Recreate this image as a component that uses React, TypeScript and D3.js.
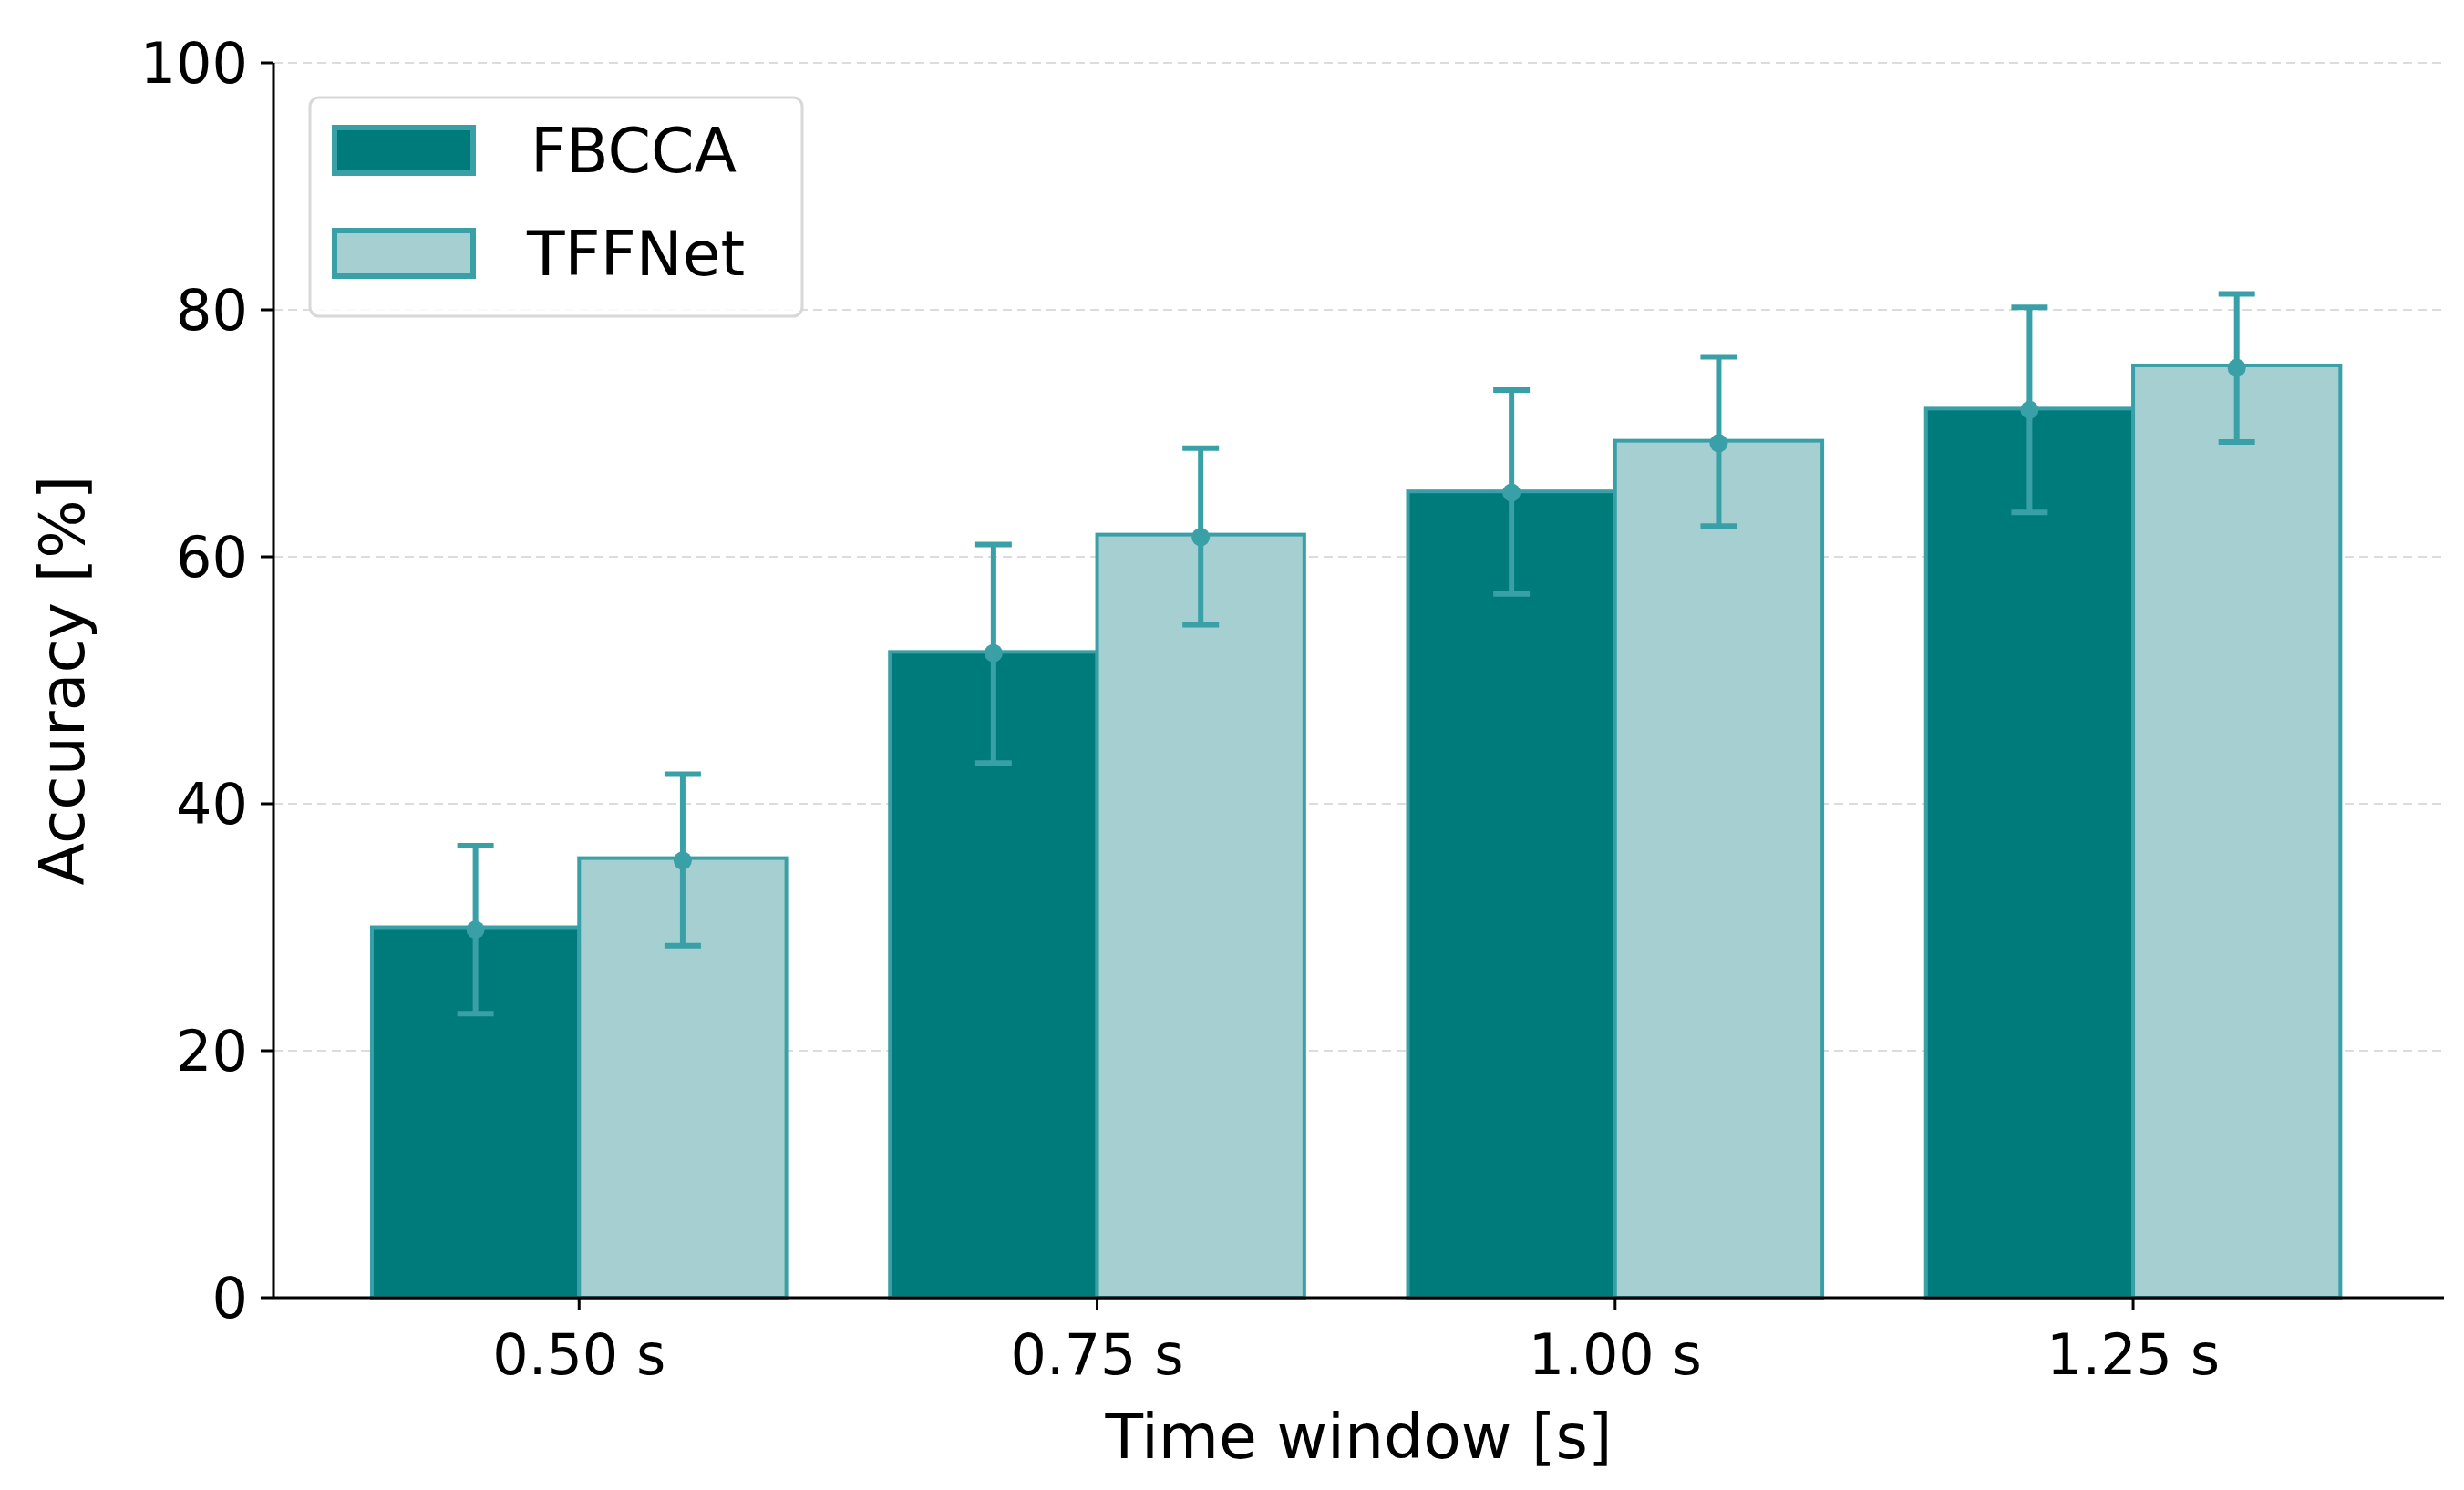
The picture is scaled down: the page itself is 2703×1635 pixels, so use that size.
import React from "react";
import * as d3 from "d3";

const categories = ["0.50 s", "0.75 s", "1.00 s", "1.25 s"];
const fbccaMean = [30.0, 52.3, 65.3, 72.0];
const fbccaLow = [23.0, 43.3, 57.0, 63.6];
const fbccaHigh = [36.6, 61.0, 73.5, 80.2];
const fbccaDot = [29.8, 52.2, 65.2, 71.9];
const tffMean = [35.6, 61.8, 69.4, 75.5];
const tffLow = [28.5, 54.5, 62.5, 69.3];
const tffHigh = [42.4, 68.8, 76.2, 81.3];
const tffDot = [35.4, 61.6, 69.2, 75.3];
const yTicks = [0, 20, 40, 60, 80, 100];

const W = 2703, H = 1635;
const left = 300, right = 2681, top = 69, bottom = 1424;
const dark = "#007b7b", light = "#a5cfd0", edge = "#3aa0a8";
const font = "DejaVu Sans, sans-serif";

export default function App() {
  const x = d3.scaleLinear().domain([-0.59, 3.6]).range([left, right]);
  const y = d3.scaleLinear().domain([0, 100]).range([bottom, top]);
  const bw = x(0.4) - x(0);
  const series = [
    { mean: fbccaMean, low: fbccaLow, high: fbccaHigh, dot: fbccaDot, fill: dark, off: -0.2 },
    { mean: tffMean, low: tffLow, high: tffHigh, dot: tffDot, fill: light, off: 0.2 },
  ];
  return (
    <svg width={W} height={H} style={{ position: "absolute", left: 0, top: 0, background: "#fff" }} fontFamily={font}>
      {yTicks.slice(1).map((t) => (
        <line key={t} x1={left} x2={right} y1={y(t)} y2={y(t)} stroke="#dcdcdc" strokeWidth={2} strokeDasharray="10 6" />
      ))}
      {series.map((s, si) =>
        categories.map((c, i) => {
          const cx = x(i + s.off);
          return (
            <rect key={si + c} x={cx - bw / 2} y={y(s.mean[i])} width={bw} height={y(0) - y(s.mean[i])}
              fill={s.fill} stroke={edge} strokeWidth={4} />
          );
        })
      )}
      {series.map((s, si) =>
        categories.map((c, i) => {
          const cx = x(i + s.off);
          return (
            <g key={"e" + si + c} stroke={edge} strokeWidth={6}>
              <line x1={cx} x2={cx} y1={y(s.low[i])} y2={y(s.high[i])} />
              <line x1={cx - 20} x2={cx + 20} y1={y(s.low[i])} y2={y(s.low[i])} />
              <line x1={cx - 20} x2={cx + 20} y1={y(s.high[i])} y2={y(s.high[i])} />
              <circle cx={cx} cy={y(s.dot[i])} r={10} fill={edge} stroke="none" />
            </g>
          );
        })
      )}
      <line x1={left} x2={left} y1={top} y2={bottom} stroke="#000" strokeWidth={3} />
      <line x1={left} x2={right} y1={bottom} y2={bottom} stroke="#000" strokeWidth={3} />
      {yTicks.map((t) => (
        <g key={t}>
          <line x1={left - 14} x2={left} y1={y(t)} y2={y(t)} stroke="#000" strokeWidth={3} />
          <text x={left - 28} y={y(t)} dy="0.36em" textAnchor="end" fontSize={62}>{t}</text>
        </g>
      ))}
      {categories.map((c, i) => (
        <g key={c}>
          <line x1={x(i)} x2={x(i)} y1={bottom} y2={bottom + 14} stroke="#000" strokeWidth={3} />
          <text x={x(i)} y={bottom + 84} textAnchor="middle" fontSize={62}>{c}</text>
        </g>
      ))}
      <text x={(left + right) / 2} y={1600} textAnchor="middle" fontSize={68}>Time window [s]</text>
      <text transform={`translate(92,${(top + bottom) / 2}) rotate(-90)`} textAnchor="middle" fontSize={68}>Accuracy [%]</text>
      <g>
        <rect x={340} y={107} width={540} height={240} rx={10} fill="#fff" fillOpacity={0.85} stroke="#d8d8d8" strokeWidth={3} />
        <rect x={367} y={140} width={152} height={50} fill={dark} stroke={edge} strokeWidth={6} />
        <rect x={367} y={253} width={152} height={50} fill={light} stroke={edge} strokeWidth={6} />
        <text x={582} y={165} dy="0.36em" fontSize={68}>FBCCA</text>
        <text x={578} y={278} dy="0.36em" fontSize={68}>TFFNet</text>
      </g>
    </svg>
  );
}
